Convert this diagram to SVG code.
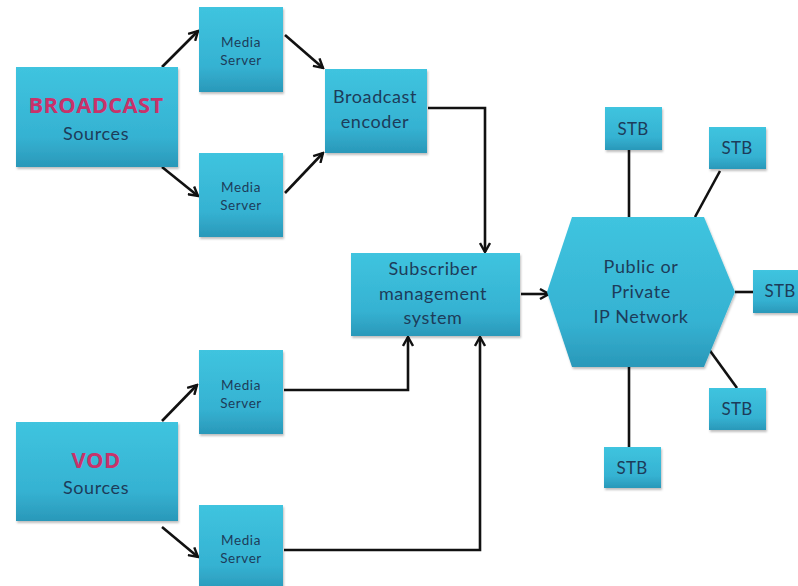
<svg xmlns="http://www.w3.org/2000/svg" width="798" height="586" viewBox="0 0 798 586">
  <style>
    .box { fill: url(#cyan); stroke: none; filter: url(#shadow); }
    .lbl { font-family: Lato, "Open Sans", "Liberation Sans", sans-serif; fill: #1d3c5a; text-anchor: middle; }
    .sm { font-size: 13.5px; letter-spacing: 0.6px; }
    .md { font-size: 18px; letter-spacing: 0.6px; }
    .stb { font-size: 17px; letter-spacing: 0.3px; }
    .hot { font-family: "Open Sans", "Liberation Sans", sans-serif; font-weight: bold; font-size: 22px; fill: #c8326a; text-anchor: middle; letter-spacing: 0.3px; }
    .wire { fill: none; stroke: #111; stroke-width: 2.6; stroke-linejoin: miter; }
    .arr { marker-end: url(#head); }
  </style>
  <defs>
    <linearGradient id="cyan" x1="0" y1="0" x2="0" y2="1">
      <stop offset="0" stop-color="#3fc4df"/>
      <stop offset="0.7" stop-color="#35b2d2"/>
      <stop offset="1" stop-color="#2a98b9"/>
    </linearGradient>
    <filter id="shadow" x="-5%" y="-5%" width="115%" height="120%">
      <feDropShadow dx="1" dy="2" stdDeviation="1.2" flood-color="#000" flood-opacity="0.25"/>
    </filter>
    <marker id="head" viewBox="0 0 12 12" refX="10" refY="6" markerWidth="12" markerHeight="12" markerUnits="userSpaceOnUse" orient="auto">
      <path d="M1,1 L10,6 L1,11" fill="none" stroke="#111" stroke-width="2.4"/>
    </marker>
  </defs>

  <rect width="798" height="586" fill="#fff"/>

  <!-- connectors -->
  <g id="connectors">
    <line class="wire arr" x1="162" y1="67" x2="198" y2="31"/>
    <line class="wire arr" x1="162" y1="167" x2="198" y2="196"/>
    <line class="wire arr" x1="285" y1="35" x2="323" y2="68"/>
    <line class="wire arr" x1="285" y1="193" x2="323" y2="153"/>
    <polyline class="wire arr" points="428,108 485,108 485,252"/>
    <line class="wire arr" x1="521" y1="294" x2="549" y2="294"/>
    <line class="wire arr" x1="162" y1="421" x2="197" y2="385"/>
    <line class="wire arr" x1="162" y1="527" x2="198" y2="557"/>
    <polyline class="wire arr" points="284,390 408,390 408,337"/>
    <polyline class="wire arr" points="284,550 480,550 480,337"/>
    <line class="wire" x1="629" y1="150" x2="629" y2="217"/>
    <line class="wire" x1="720" y1="171" x2="695" y2="217"/>
    <line class="wire" x1="735" y1="292" x2="754" y2="292"/>
    <line class="wire" x1="708" y1="348" x2="737" y2="388"/>
    <line class="wire" x1="629" y1="367" x2="629" y2="447"/>
  </g>

  <g id="broadcast-sources">
    <rect class="box" x="16" y="67" width="162" height="100"/>
    <text class="hot" x="96" y="113">BROADCAST</text>
    <text class="lbl md" x="96" y="140">Sources</text>
  </g>

  <g id="media-server-1">
    <rect class="box" x="199" y="7" width="84" height="85"/>
    <text class="lbl sm" x="241" y="47">Media</text>
    <text class="lbl sm" x="241" y="65">Server</text>
  </g>

  <g id="media-server-2">
    <rect class="box" x="199" y="153" width="84" height="84"/>
    <text class="lbl sm" x="241" y="192">Media</text>
    <text class="lbl sm" x="241" y="210">Server</text>
  </g>

  <g id="broadcast-encoder">
    <rect class="box" x="325" y="69" width="102" height="84"/>
    <text class="lbl md" x="375" y="103">Broadcast</text>
    <text class="lbl md" x="375" y="128">encoder</text>
  </g>

  <g id="subscriber-management">
    <rect class="box" x="351" y="253" width="169" height="83"/>
    <text class="lbl md" x="433" y="275">Subscriber</text>
    <text class="lbl md" x="433" y="300">management</text>
    <text class="lbl md" x="433" y="324">system</text>
  </g>

  <g id="ip-network">
    <polygon class="box" points="572,217 704,217 735,292 704,367 572,367 547,292"/>
    <text class="lbl md" x="641" y="273">Public or</text>
    <text class="lbl md" x="641" y="298">Private</text>
    <text class="lbl md" x="641" y="323">IP Network</text>
  </g>

  <g id="stb-top">
    <rect class="box" x="605" y="107" width="57" height="43"/>
    <text class="lbl stb" x="633" y="135">STB</text>
  </g>
  <g id="stb-top-right">
    <rect class="box" x="709" y="127" width="57" height="42"/>
    <text class="lbl stb" x="737" y="154">STB</text>
  </g>
  <g id="stb-right">
    <rect class="box" x="753" y="270" width="50" height="43"/>
    <text class="lbl stb" x="780" y="297">STB</text>
  </g>
  <g id="stb-bottom-right">
    <rect class="box" x="709" y="388" width="57" height="42"/>
    <text class="lbl stb" x="737" y="415">STB</text>
  </g>
  <g id="stb-bottom">
    <rect class="box" x="604" y="447" width="57" height="41"/>
    <text class="lbl stb" x="632" y="474">STB</text>
  </g>

  <g id="vod-sources">
    <rect class="box" x="16" y="422" width="162" height="99"/>
    <text class="hot" x="96" y="468">VOD</text>
    <text class="lbl md" x="96" y="494">Sources</text>
  </g>

  <g id="media-server-3">
    <rect class="box" x="199" y="350" width="84" height="84"/>
    <text class="lbl sm" x="241" y="390">Media</text>
    <text class="lbl sm" x="241" y="408">Server</text>
  </g>

  <g id="media-server-4">
    <rect class="box" x="199" y="505" width="84" height="86"/>
    <text class="lbl sm" x="241" y="545">Media</text>
    <text class="lbl sm" x="241" y="563">Server</text>
  </g>
</svg>
